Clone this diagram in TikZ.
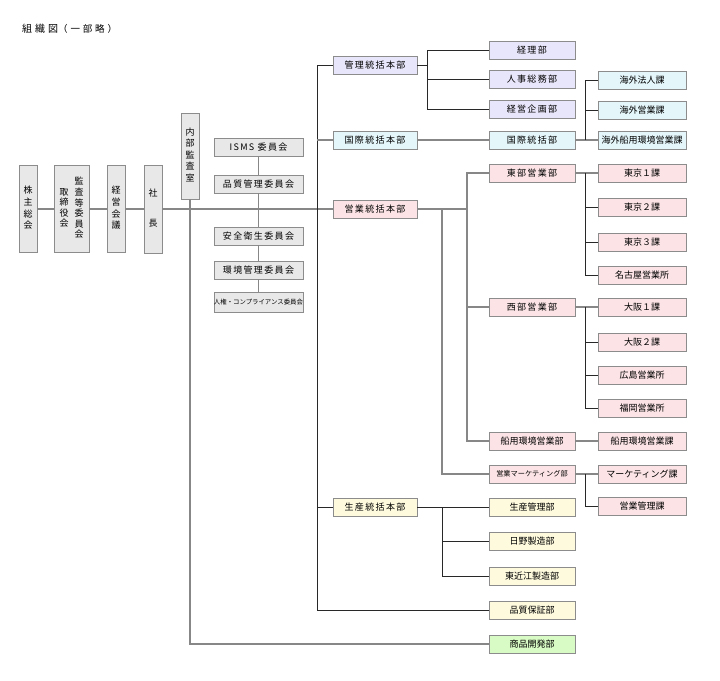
\documentclass[tikz,border=0pt]{standalone}
\usepackage{fontspec}
\newfontfamily\jp{Noto Sans CJK JP}
\newfontfamily\jpw[LetterSpace=15]{Noto Sans CJK JP}
\newfontfamily\jpt[LetterSpace=30]{Noto Sans CJK JP}
\newcommand{\tate}[1]{\begin{tabular}[c]{@{}c@{}}#1\end{tabular}}
\definecolor{edge}{RGB}{140,140,140}
\definecolor{linegray}{RGB}{135,135,135}
\definecolor{lineblack}{RGB}{40,40,40}
\definecolor{boxgray}{RGB}{232,232,232}
\definecolor{lav}{RGB}{232,230,250}
\definecolor{aqua}{RGB}{228,246,250}
\definecolor{rose}{RGB}{252,228,230}
\definecolor{cream}{RGB}{254,250,222}
\definecolor{mint}{RGB}{216,250,196}

\begin{document}
\begin{tikzpicture}[x=1pt,y=-1pt,
    box/.style={draw=edge,line width=0.8pt,inner sep=0pt,minimum height=18pt,font=\fontsize{9}{10.5}\jp},
    wide/.style={font=\fontsize{9}{10.5}\jpw},
    tatebox/.style={box,fill=boxgray,minimum width=18pt,minimum height=87pt,
      font=\fontsize{9}{10.5}\jp\def\arraystretch{1.11}},
    iinkai/.style={box,wide,fill=boxgray,minimum width=89pt},
    honbu/.style={box,wide,minimum width=84pt},
    bu/.style={box,minimum width=86pt},
    ka/.style={box,minimum width=88pt},
    gry/.style={draw=linegray,line width=1.5pt},
    blk/.style={draw=lineblack,line width=0.9pt}]
  \useasboundingbox (0,0) rectangle (720,680);

  \node[anchor=west,inner sep=0pt,font=\fontsize{10}{12}\jpt] (title) at (22,29)
    {組織図{\fontsize{9.5}{11}\selectfont （一部略）}};

  \node[tatebox] (kabu) at (28,209) {\tate{株\\主\\総\\会}};
  \node[tatebox,minimum width=35pt,font=\fontsize{9}{10.5}\jp\def\arraystretch{0.97}] (tori) at (71.5,209)
    {\tate{取\\締\\役\\会}\hspace{6pt}\tate{監\\査\\等\\委\\員\\会}};
  \node[tatebox] (keiei) at (116,209) {\tate{経\\営\\会\\議}};
  \node[tatebox,minimum height=88pt] (shacho) at (153,209) {\tate{社\\[18.5pt]長}};
  \node[tatebox,minimum height=86pt] (naibu) at (190,156) {\tate{内\\部\\監\\査\\室}};

  \node[iinkai] (isms) at (258.5,147) {ISMS 委員会};
  \node[iinkai] (hinkan) at (258.5,184) {品質管理委員会};
  \node[iinkai] (anzen) at (258.5,236) {安全衛生委員会};
  \node[iinkai] (kankyo) at (258.5,270) {環境管理委員会};
  \node[box,fill=boxgray,minimum width=89pt,minimum height=20pt,font=\fontsize{6.4}{8}\jp] (jinken) at (258.5,302)
    {人権・コンプライアンス委員会};

  \node[honbu,fill=lav] (kanri) at (375,65) {管理統括本部};
  \node[honbu,fill=aqua] (kokusai) at (375,140) {国際統括本部};
  \node[honbu,fill=rose] (eigyo) at (375,209) {営業統括本部};
  \node[honbu,fill=cream] (seisan) at (375,507) {生産統括本部};

  \node[bu,wide,fill=lav] (keiri) at (532,50) {経理部};
  \node[bu,wide,fill=lav] (jinji) at (532,79) {人事総務部};
  \node[bu,wide,fill=lav] (kikaku) at (532,109) {経営企画部};
  \node[bu,wide,fill=aqua] (kokusaibu) at (532,140) {国際統括部};
  \node[bu,wide,fill=rose] (tobu) at (532,173) {東部営業部};
  \node[bu,wide,fill=rose] (seibu) at (532,307) {西部営業部};
  \node[bu,fill=rose] (senyo) at (532,441) {船用環境営業部};
  \node[bu,fill=rose,font=\fontsize{7.2}{9}\jp] (market) at (532,474) {営業マーケティング部};
  \node[bu,fill=cream] (seikan) at (532,507) {生産管理部};
  \node[bu,fill=cream] (hino) at (532,541) {日野製造部};
  \node[bu,fill=cream] (omi) at (532,576) {東近江製造部};
  \node[bu,fill=cream] (hosho) at (532,610) {品質保証部};
  \node[bu,fill=mint] (shohin) at (532,644) {商品開発部};

  \node[ka,fill=aqua] (hojin) at (642,80) {海外法人課};
  \node[ka,fill=aqua] (kaigai) at (642,110) {海外営業課};
  \node[ka,fill=aqua] (kaisen) at (642,140) {海外船用環境営業課};
  \node[ka,fill=rose] (tokyoA) at (642,173) {東京１課};
  \node[ka,fill=rose] (tokyoB) at (642,207) {東京２課};
  \node[ka,fill=rose] (tokyoC) at (642,242) {東京３課};
  \node[ka,fill=rose] (nagoya) at (642,275) {名古屋営業所};
  \node[ka,fill=rose] (osakaA) at (642,307) {大阪１課};
  \node[ka,fill=rose] (osakaB) at (642,342) {大阪２課};
  \node[ka,fill=rose] (hiro) at (642,375) {広島営業所};
  \node[ka,fill=rose] (fuku) at (642,408) {福岡営業所};
  \node[ka,fill=rose] (senyoka) at (642,441) {船用環境営業課};
  \node[ka,fill=rose] (marketka) at (642,474) {マーケティング課};
  \node[ka,fill=rose] (eikan) at (642,506) {営業管理課};

  \coordinate (t) at (317,0);
  \coordinate (k1) at (427,0);
  \coordinate (e1) at (467,0);
  \coordinate (e2) at (442,0);
  \coordinate (k2) at (585,0);

  \path[gry] (kabu) -- (tori) (tori) -- (keiei) (keiei) -- (shacho) (shacho) -- (eigyo);
  \path[gry] (naibu.south) |- (shohin.west);
  \path[gry] (isms) -- (hinkan) (hinkan) -- (anzen) (anzen) -- (kankyo) (kankyo) -- (jinken);

  \path[blk] (kanri.west) -| (t |- hosho) -- (hosho.west);
  \path[gry] (kokusai.west) -- (t |- kokusai);
  \path[blk] (seisan.west) -- (t |- seisan);

  \path[blk] (kanri.east) -- (k1 |- kanri);
  \path[blk] (keiri.west) -| (k1 |- kikaku) -- (kikaku.west)
             (k1 |- jinji) -- (jinji.west);

  \path[gry] (kokusai) -- (kokusaibu) (kokusaibu) -- (kaisen);
  \path[blk] (hojin.west) -| (k2 |- kaisen)
             (k2 |- kaigai) -- (kaigai.west);

  \path[gry] (eigyo.east) -- (e1 |- eigyo);
  \path[gry] (tobu.west) -| (e1 |- senyo) -- (senyo.west)
             (e1 |- seibu) -- (seibu.west)
             (e2 |- eigyo) |- (market.west);

  \path[gry] (tobu) -- (tokyoA);
  \path[blk] (k2 |- tobu) |- (nagoya.west)
             (k2 |- tokyoB) -- (tokyoB.west)
             (k2 |- tokyoC) -- (tokyoC.west);
  \path[gry] (seibu) -- (osakaA);
  \path[blk] (k2 |- seibu) |- (fuku.west)
             (k2 |- osakaB) -- (osakaB.west)
             (k2 |- hiro) -- (hiro.west);
  \path[gry] (senyo) -- (senyoka);
  \path[gry] (market) -- (marketka);
  \path[blk] (k2 |- market) |- (eikan.west);

  \path[blk] (seisan) -- (seikan);
  \path[blk] (e2 |- seisan) |- (omi.west)
             (e2 |- hino) -- (hino.west);
\end{tikzpicture}
\end{document}
